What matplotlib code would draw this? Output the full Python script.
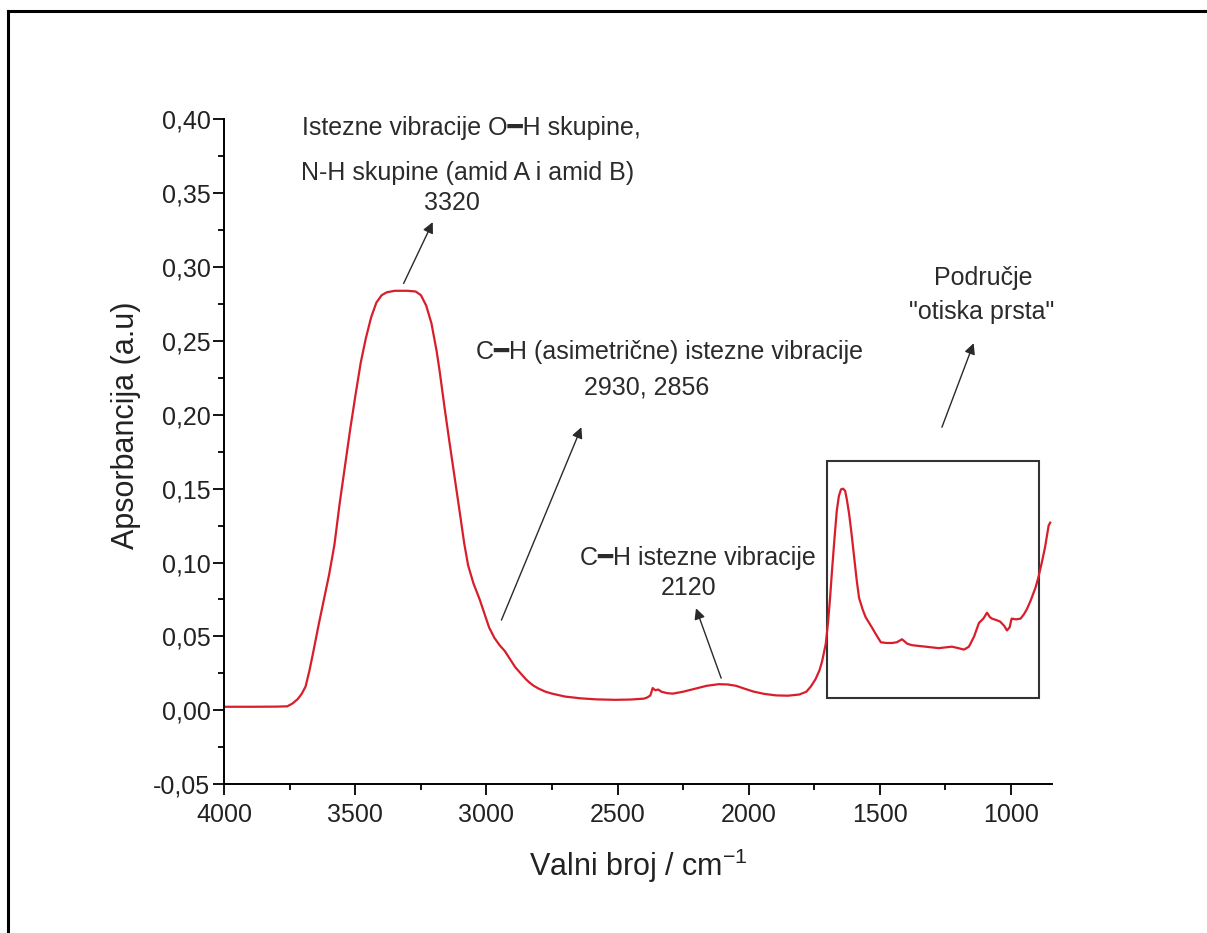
import matplotlib
matplotlib.use("Agg")
import matplotlib.pyplot as plt
from matplotlib.patches import Rectangle
from matplotlib.lines import Line2D
import numpy as np

plt.rcParams['font.family'] = ['Liberation Sans', 'DejaVu Sans']
plt.rcParams['mathtext.fontset'] = 'custom'
plt.rcParams['mathtext.rm'] = 'Liberation Sans'
plt.rcParams['mathtext.it'] = 'Liberation Sans:italic'

# ---- data ----
wavenumber = [4000, 3900, 3800, 3760, 3740, 3720, 3705, 3690, 3675, 3660, 3640, 3620,
              3600, 3580, 3560, 3540, 3520, 3500, 3480, 3460, 3440, 3420, 3400, 3380,
              3350, 3300, 3270, 3250, 3230, 3210, 3190, 3179, 3160, 3140, 3120, 3102,
              3085, 3070, 3050, 3026, 3005, 2990, 2970, 2950, 2930, 2912, 2890, 2870,
              2850, 2838, 2820, 2800, 2775, 2750, 2700, 2640, 2580, 2509, 2450, 2400,
              2388, 2375, 2366, 2360, 2355, 2345, 2333, 2310, 2289, 2250, 2202, 2160,
              2114, 2080, 2048, 2015, 1982, 1940, 1895, 1850, 1807, 1780, 1763, 1745,
              1730, 1720, 1706, 1697, 1690, 1682, 1672, 1664, 1656, 1648, 1640, 1632,
              1625, 1617, 1608, 1598, 1588, 1579, 1565, 1554, 1530, 1510, 1496, 1475,
              1453, 1435, 1415, 1395, 1377, 1350, 1325, 1300, 1275, 1250, 1225, 1200,
              1179, 1160, 1140, 1122, 1105, 1091, 1080, 1072, 1055, 1041, 1025, 1015,
              1005, 997, 980, 963, 950, 940, 925, 906, 895, 882, 870, 856, 850]
absorbance = [0.0023, 0.0023, 0.0024, 0.0026, 0.0045, 0.0075, 0.0110, 0.0160, 0.0270,
              0.0400, 0.0580, 0.0750, 0.0920, 0.1120, 0.1400, 0.1650, 0.1900, 0.2130,
              0.2350, 0.2520, 0.2660, 0.2760, 0.2810, 0.2830, 0.2840, 0.2840, 0.2835,
              0.2810, 0.2740, 0.2620, 0.2430, 0.2300, 0.2050, 0.1800, 0.1560, 0.1340,
              0.1130, 0.0980, 0.0860, 0.0750, 0.0640, 0.0560, 0.0490, 0.0440, 0.0400,
              0.0350, 0.0290, 0.0250, 0.0210, 0.0190, 0.0165, 0.0145, 0.0125, 0.0112,
              0.0092, 0.0080, 0.0073, 0.0070, 0.0072, 0.0078, 0.0085, 0.0100, 0.0150,
              0.0140, 0.0135, 0.0140, 0.0125, 0.0115, 0.0112, 0.0125, 0.0146, 0.0165,
              0.0176, 0.0174, 0.0165, 0.0145, 0.0126, 0.0110, 0.0100, 0.0098, 0.0106,
              0.0125, 0.0160, 0.0210, 0.0270, 0.0330, 0.0450, 0.0600, 0.0750, 0.0950,
              0.1180, 0.1350, 0.1450, 0.1495, 0.1500, 0.1485, 0.1420, 0.1330, 0.1200,
              0.1040, 0.0880, 0.0760, 0.0680, 0.0630, 0.0560, 0.0500, 0.0460, 0.0455,
              0.0455, 0.0460, 0.0480, 0.0450, 0.0440, 0.0435, 0.0430, 0.0425, 0.0420,
              0.0425, 0.0430, 0.0420, 0.0410, 0.0430, 0.0500, 0.0590, 0.0620, 0.0660,
              0.0630, 0.0620, 0.0610, 0.0600, 0.0570, 0.0540, 0.0560, 0.0620, 0.0615,
              0.0620, 0.0650, 0.0680, 0.0740, 0.0830, 0.0900, 0.1000, 0.1100, 0.1250,
              0.1270]

x_ticks = [4000, 3500, 3000, 2500, 2000, 1500, 1000]
x_tick_labels = ['4000', '3500', '3000', '2500', '2000', '1500', '1000']
y_ticks = [-0.05, 0.00, 0.05, 0.10, 0.15, 0.20, 0.25, 0.30, 0.35, 0.40]
y_tick_labels = ['-0,05', '0,00', '0,05', '0,10', '0,15', '0,20', '0,25', '0,30', '0,35', '0,40']

# ---- figure ----
fig = plt.figure(figsize=(12.07, 9.33), dpi=100)
fig.patch.set_facecolor('white')

# page frame (left and top edges visible)
fig.add_artist(Line2D([8 / 1207, 8 / 1207], [0, 1 - 11 / 933], transform=fig.transFigure,
                      color='black', lw=2.2))
fig.add_artist(Line2D([8 / 1207, 1], [1 - 11 / 933, 1 - 11 / 933], transform=fig.transFigure,
                      color='black', lw=2.2))

ax = fig.add_axes([224.3 / 1207, 1 - 784 / 933, (1052.3 - 224.3) / 1207, (784 - 119.5) / 933])
ax.plot(wavenumber, absorbance, color='#d81e2a', lw=1.6)

ax.set_xlim(4000, 842)
ax.set_ylim(-0.05, 0.40)
ax.set_xticks(x_ticks)
ax.set_xticklabels(x_tick_labels)
ax.set_yticks(y_ticks)
ax.set_yticklabels(y_tick_labels)
ax.set_xticks(np.arange(3750, 842, -500), minor=True)
ax.set_yticks(np.arange(-0.025, 0.40, 0.05), minor=True)

for s in ['top', 'right']:
    ax.spines[s].set_visible(False)
for s in ['left', 'bottom']:
    ax.spines[s].set_linewidth(1.4)
ax.tick_params(which='major', direction='out', length=8, width=1.3, labelsize=18,
               colors='black', labelcolor='#222222')
ax.tick_params(which='minor', direction='out', length=4.5, width=1.3)
ax.tick_params(axis='x', pad=6)
ax.tick_params(axis='y', pad=2)

ax.set_xlabel('Valni broj / cm$^{-1}$', fontsize=22, color='#222222')
ax.set_ylabel('Apsorbancija (a.u)', fontsize=22, color='#222222')
ax.xaxis.set_label_coords(0.5, -0.095)
ax.yaxis.set_label_coords(-0.10, 0.54)

# fingerprint box
ax.add_patch(Rectangle((1700, 0.008), 894 - 1700, 0.169 - 0.008, fill=False,
                       edgecolor='#333333', lw=1.5))

tkw = dict(fontsize=18, ha='center', va='center', color='#2b2b2b',
           family=['Liberation Sans', 'DejaVu Sans'])
ax.text(3057, 0.394, 'Istezne vibracije O━H skupine,', **tkw)
ax.text(3072, 0.3637, 'N-H skupine (amid A i amid B)', **tkw)
ax.text(3133, 0.3433, '3320', **tkw)
ax.text(2303, 0.2424, 'C━H (asimetrične) istezne vibracije', **tkw)
ax.text(2390, 0.2187, '2930, 2856', **tkw)
ax.text(2192, 0.1029, 'C━H istezne vibracije', **tkw)
ax.text(2231, 0.0826, '2120', **tkw)
ax.text(1107, 0.2925, 'Područje', **tkw)
ax.text(1111, 0.2695, '"otiska prsta"', **tkw)

akw = dict(arrowstyle='-|>', color='#2a2a2a', lw=1.0, mutation_scale=16,
           shrinkA=0, shrinkB=0)
for tail, head in [((3316, 0.289), (3205, 0.3305)),
                   ((2943, 0.061), (2638, 0.1916)),
                   ((2105, 0.0217), (2201, 0.069)),
                   ((1263, 0.1916), (1142, 0.2485))]:
    ax.annotate('', xy=head, xytext=tail, arrowprops=akw)

fig.savefig('out.png', dpi=100)
